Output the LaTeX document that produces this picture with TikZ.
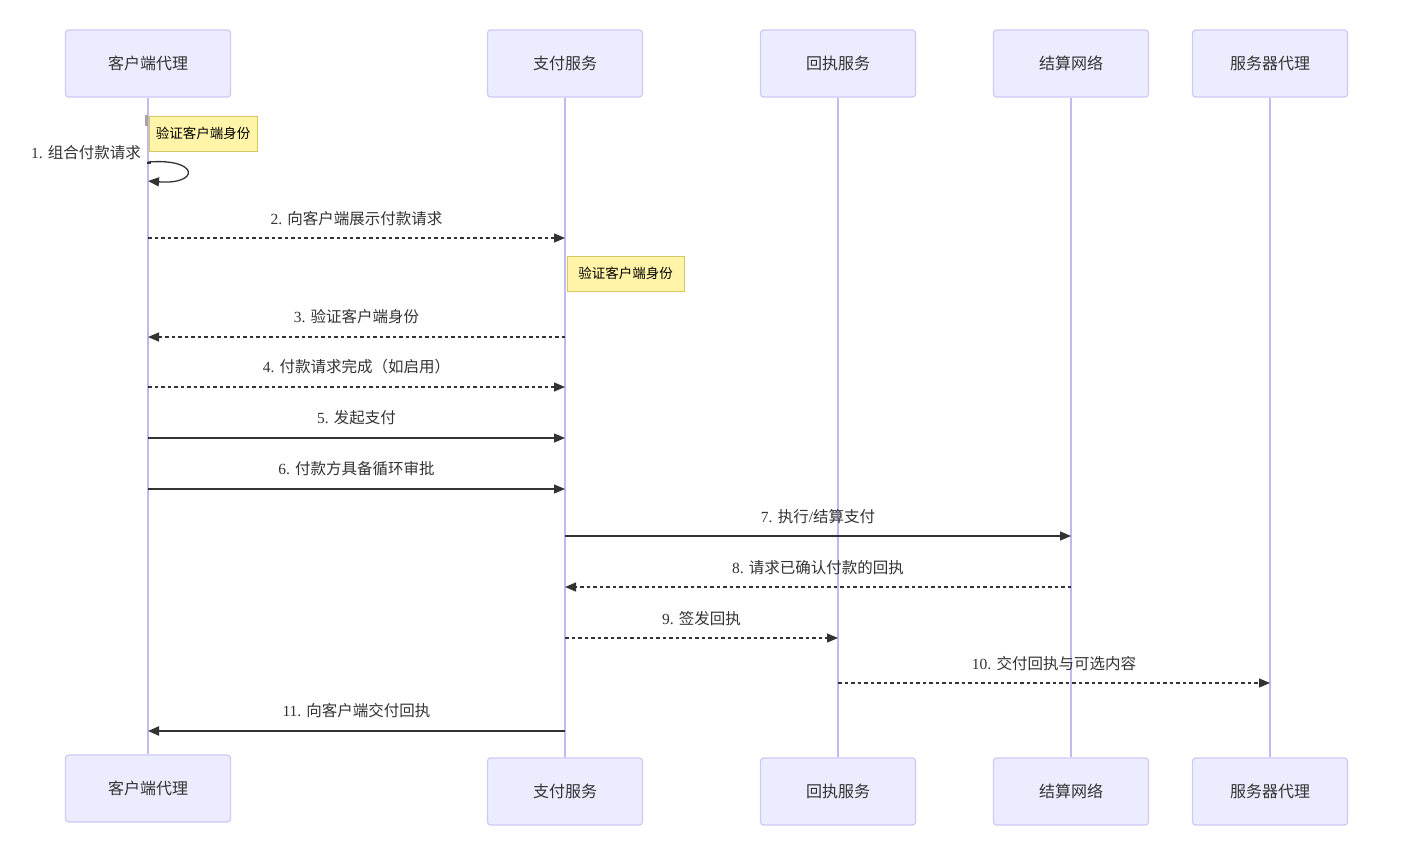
\documentclass[tikz,border=0pt]{standalone}
\usepackage{fontspec}
\setmainfont{Liberation Serif}
\newfontfamily\cjk{Noto Sans CJK SC}
\usetikzlibrary{arrows.meta}
\definecolor{actfill}{HTML}{ECECFF}
\definecolor{actdraw}{HTML}{CFC8F6}
\definecolor{lifec}{HTML}{C4B8F4}
\definecolor{notefill}{HTML}{FFF4A8}
\definecolor{notedraw}{HTML}{D9C860}
\definecolor{ink}{HTML}{333333}
\tikzset{
  actor/.style={draw=actdraw, fill=actfill, line width=1.2pt, rounded corners=3pt,
    minimum width=155pt, minimum height=67pt, inner sep=0pt,
    font=\cjk\fontsize{16pt}{18pt}\selectfont, text=ink},
  lifeline/.style={draw=lifec, line width=1.8pt},
  notebox/.style={draw=notedraw, fill=notefill, line width=0.8pt, inner sep=0pt,
    minimum height=35pt, font=\cjk\fontsize{13.5pt}{15pt}\selectfont, text=black},
  msg/.style={draw=ink, line width=1.3pt, -{Triangle[length=11pt,width=9pt]}},
  dmsg/.style={msg, dash pattern=on 3.5pt off 3pt},
  lbl/.style={midway, above=12pt, inner sep=0pt, text=ink,
    font=\fontsize{15.5pt}{17pt}\selectfont},
}
\newcommand{\zh}[1]{{\cjk #1}}
\begin{document}
\begin{tikzpicture}[x=1pt,y=-1pt]
\useasboundingbox[fill=white] (0,0) rectangle (1412,854);
% top actors
\node[actor, minimum width=165pt] (A) at (148,63.5) {客户端代理};
\node[actor] (B) at (565,63.5) {支付服务};
\node[actor] (C) at (838,63.5) {回执服务};
\node[actor] (D) at (1071,63.5) {结算网络};
\node[actor] (E) at (1270,63.5) {服务器代理};
% bottom actors
\node[actor, minimum width=165pt] (A2) at (148,788.5) {客户端代理};
\node[actor] (B2) at (565,791.5) {支付服务};
\node[actor] (C2) at (838,791.5) {回执服务};
\node[actor] (D2) at (1071,791.5) {结算网络};
\node[actor] (E2) at (1270,791.5) {服务器代理};
% lifelines
\draw[lifeline] (A.south) -- (A2.north);
\draw[lifeline] (B.south) -- (B2.north);
\draw[lifeline] (C.south) -- (C2.north);
\draw[lifeline] (D.south) -- (D2.north);
\draw[lifeline] (E.south) -- (E2.north);
% small marker
\fill[gray!70] (145,115) rectangle (147.5,126);
% notes
\node[notebox, minimum width=108pt] (N1) at (203,133.5) {验证客户端身份};
\node[notebox, minimum width=117pt] (N2) at (625.5,273.5) {验证客户端身份};
% message rows
\foreach \n/\y in {s1/162,e1/181,r2/238,r3/337,r4/387,r5/438,r6/489,r7/536,r8/587,r9/638,r10/683,r11/731}
  \coordinate (\n) at (0,\y);
% 1 self loop
\draw[msg] (A|-s1) .. controls +(52,-4) and +(52,4) .. (A|-e1);
\fill[ink] ([xshift=-1pt]A|-s1) rectangle ([xshift=3pt,yshift=-2pt]A|-s1);
\node[anchor=east, inner sep=0pt, text=ink, font=\fontsize{15.5pt}{17pt}\selectfont] (L1) at (141,153) {1. \zh{组合付款请求}};
% messages
\draw[dmsg] (A|-r2) -- (B|-r2) node[lbl] {2. \zh{向客户端展示付款请求}};
\draw[dmsg] (B|-r3) -- (A|-r3) node[lbl] {3. \zh{验证客户端身份}};
\draw[dmsg] (A|-r4) -- (B|-r4) node[lbl] {4. \zh{付款请求完成（如启用）}};
\draw[msg] (A|-r5) -- (B|-r5) node[lbl] {5. \zh{发起支付}};
\draw[msg] (A|-r6) -- (B|-r6) node[lbl] {6. \zh{付款方具备循环审批}};
\draw[msg] (B|-r7) -- (D|-r7) node[lbl] {7. \zh{执行}/\zh{结算支付}};
\draw[dmsg] (D|-r8) -- (B|-r8) node[lbl] {8. \zh{请求已确认付款的回执}};
\draw[dmsg] (B|-r9) -- (C|-r9) node[lbl] {9. \zh{签发回执}};
\draw[dmsg] (C|-r10) -- (E|-r10) node[lbl] {10. \zh{交付回执与可选内容}};
\draw[msg, line width=1.8pt] (B|-r11) -- (A|-r11) node[lbl] {11. \zh{向客户端交付回执}};
\end{tikzpicture}
\end{document}
